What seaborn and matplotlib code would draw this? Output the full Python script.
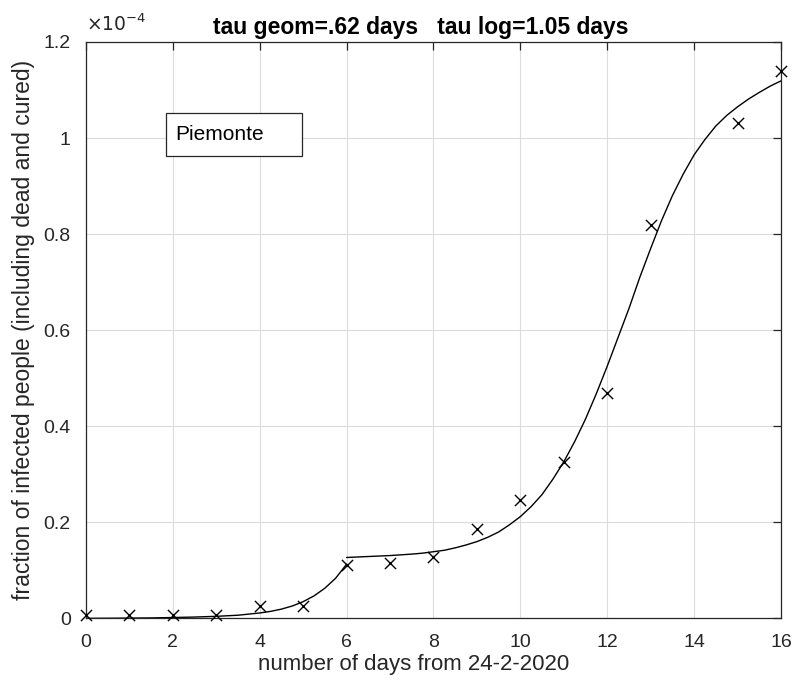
import matplotlib
matplotlib.use("Agg")
import matplotlib.pyplot as plt
from matplotlib.patches import Rectangle
import seaborn as sns
import pandas as pd

# observed data (fraction of infected people, in units of 1e-4)
obs_days = [0, 1, 2, 3, 4, 5, 6, 7, 8, 9, 10, 11, 12, 13, 15, 16]
obs_frac = [0.007, 0.007, 0.007, 0.007, 0.025, 0.025, 0.112, 0.116, 0.129,
            0.187, 0.246, 0.326, 0.470, 0.820, 1.031, 1.140]

# geometric fit (days 0-6)
geom_days = [0, 0.5, 1, 1.5, 2, 2.5, 3, 3.5, 4, 4.25, 4.5, 4.75, 5, 5.25, 5.5, 5.75, 6]
geom_frac = [0.0003, 0.0005, 0.0008, 0.0012, 0.002, 0.003, 0.0045, 0.0068, 0.0115,
             0.0148, 0.0195, 0.026, 0.035, 0.047, 0.063, 0.084, 0.113]

# logistic fit (days 6-16)
log_days = [6.0, 6.25, 6.5, 6.75, 7.0, 7.25, 7.5, 7.75, 8.0, 8.25, 8.5, 8.75, 9.0,
            9.25, 9.5, 9.75, 10.0, 10.25, 10.5, 10.75, 11.0, 11.25, 11.5, 11.75,
            12.0, 12.25, 12.5, 12.75, 13.0, 13.25, 13.5, 13.75, 14.0, 14.25, 14.5,
            14.75, 15.0, 15.25, 15.5, 15.75, 16.0]
log_frac = [0.127, 0.128, 0.129, 0.130, 0.131, 0.1325, 0.134, 0.136, 0.139, 0.142,
            0.147, 0.153, 0.160, 0.169, 0.180, 0.195, 0.212, 0.233, 0.258, 0.290,
            0.326, 0.368, 0.415, 0.468, 0.525, 0.585, 0.645, 0.710, 0.770, 0.828,
            0.880, 0.925, 0.965, 0.997, 1.025, 1.047, 1.065, 1.081, 1.095, 1.108,
            1.119]

x_ticks = [0, 2, 4, 6, 8, 10, 12, 14, 16]
y_ticks = [0, 0.2, 0.4, 0.6, 0.8, 1.0, 1.2]
y_tick_labels = ["0", "0.2", "0.4", "0.6", "0.8", "1", "1.2"]

title = "tau geom=.62 days   tau log=1.05 days"
region = "Piemonte"

sns.set_style("white")
plt.rcParams['font.family'] = ['Liberation Sans', 'DejaVu Sans']

fig = plt.figure(figsize=(7.93, 6.85), dpi=100)
ax = fig.add_axes([0.1084, 0.0971, 0.8764, 0.8416])

df_obs = pd.DataFrame({"day": obs_days, "frac": obs_frac})
df_geom = pd.DataFrame({"day": geom_days, "frac": geom_frac})
df_log = pd.DataFrame({"day": log_days, "frac": log_frac})

sns.lineplot(data=df_geom, x="day", y="frac", ax=ax, color="black", lw=1.0,
             estimator=None, sort=False)
sns.lineplot(data=df_log, x="day", y="frac", ax=ax, color="black", lw=1.0,
             estimator=None, sort=False)
sns.scatterplot(data=df_obs, x="day", y="frac", ax=ax, marker="x", color="black",
                s=65, linewidth=1.0, clip_on=False, zorder=5)

ax.set_xlim(0, 16)
ax.set_ylim(0, 1.2)
ax.set_xticks(x_ticks)
ax.set_xticklabels([str(t) for t in x_ticks])
ax.set_yticks(y_ticks)
ax.set_yticklabels(y_tick_labels)
ax.grid(True, color="#dcdcdc", lw=0.8)
ax.set_axisbelow(True)

dark = "#262626"
for s in ax.spines.values():
    s.set_visible(True)
    s.set_color(dark)
    s.set_linewidth(0.9)
ax.tick_params(axis="both", direction="in", length=6, width=0.9, colors=dark,
               labelsize=14, top=True, right=True)
ax.tick_params(axis="x", pad=11)
ax.tick_params(axis="y", pad=11)
ax.tick_params(axis="both", labelcolor=dark)

ax.set_xlabel("number of days from 24-2-2020", fontsize=16, color=dark)
ax.xaxis.set_label_coords(0.472, -0.079, transform=ax.transAxes)
ax.xaxis.label.set_va("center")
ax.set_ylabel("fraction of infected people (including dead and cured)", fontsize=16.5,
              color=dark, labelpad=6)
ax.set_title(title, fontsize=16.5, fontweight="bold", color="black", pad=6, x=0.482)

ax.text(0.0, 1.012, r"$\times10^{-4}$", transform=ax.transAxes, fontsize=13.5,
        color=dark, ha="left", va="bottom", family="DejaVu Sans")

ax.add_patch(Rectangle((0.1147, 0.802), 0.1966, 0.0741, transform=ax.transAxes,
                       facecolor="white", edgecolor=dark, lw=0.9, zorder=6))
ax.text(0.129, 0.839, region, transform=ax.transAxes, fontsize=15, color="black",
        ha="left", va="center", zorder=7)

fig.savefig("out.png", dpi=100)
